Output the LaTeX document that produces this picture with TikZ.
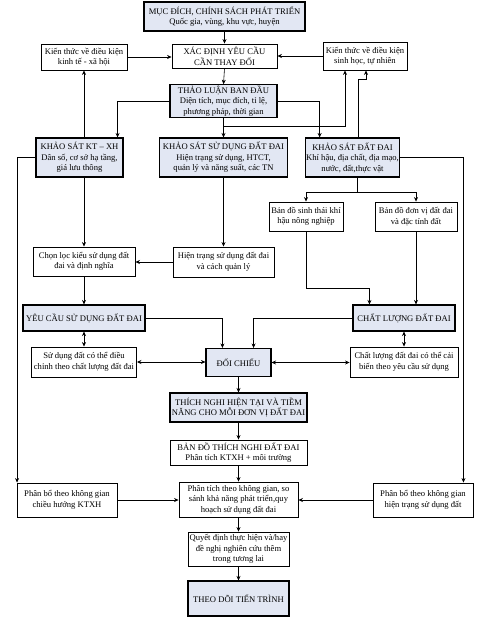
\documentclass[tikz,border=0pt]{standalone}
\usepackage{fontspec}
\setmainfont{Liberation Serif}
\usetikzlibrary{arrows.meta,positioning,calc}
\definecolor{boxblue}{RGB}{226,231,243}

\begin{document}
\begin{tikzpicture}[
   x=1pt, y=-1pt,
   >={Stealth[length=4.5pt,width=4pt]}, line width=0.6pt,
   box/.style={draw,align=center,inner sep=1pt,
               font=\fontsize{8.6}{10.5}\selectfont,line width=0.9pt},
   plain/.style={box,fill=white},
   topic/.style={box,fill=boxblue,line width=1.1pt},
   wh/.style 2 args={minimum width=#1,minimum height=#2},
   flow/.style={->},
   both/.style={<->},
   ]
\useasboundingbox (0,0) rectangle (478,618);
%% Row 1: goals
\node[topic,wh={161}{29}] (muc) at (224.5,16.5) {MỤC ĐÍCH, CHÍNH SÁCH PHÁT TRIỂN\\Quốc gia, vùng, khu vực, huyện};
\node[plain,wh={105}{24}] (xacdinh) at (224.5,56) {XÁC ĐỊNH YÊU CẦU\\CẦN THAY ĐỔI};
\node[plain,wh={86}{26}]  (ktkt) at (84,57) {Kiến thức về điều kiện\\kinh tế - xã hội};
\node[plain,wh={84}{28}]  (ktsh) at (365,56) {Kiến thức về điều kiện\\sinh học, tự nhiên};
\node[topic,wh={107}{32}] (thaoluan) at (223.5,101) {THẢO LUẬN  BAN ĐẦU\\Diện tích, mục đích,  tỉ lệ,\\phương pháp, thời gian};
%% Row 2: surveys
\node[topic,wh={87}{39}]  (ksxh) at (79.5,157.5) {KHẢO SÁT KT – XH\\Dân số, cơ sở hạ tầng,\\giá lưu thông};
\node[topic,wh={128}{39}] (kssd) at (223.5,157.5) {KHẢO SÁT SỬ DỤNG ĐẤT ĐAI\\Hiện trạng sử dụng, HTCT,\\quản lý và năng suất, các TN};
\node[topic,wh={89}{39}]  (ksdd) at (352.5,157.5) {KHẢO SÁT ĐẤT ĐAI\\Khí hậu, địa chất, địa mạo,\\nước, đất,thực vật};
\node[plain,wh={74}{29}]  (bdst) at (306,216.5) {Bản đồ sinh thái khí\\hậu nông nghiệp};
\node[plain,wh={82}{29}]  (bddv) at (416,216.5) {Bản đồ đơn vị đất đai\\và đặc tính đất};
\node[plain,wh={102}{29}] (chonloc) at (84,261.5) {Chọn lọc kiểu sử dụng đất\\đai và định nghĩa};
\node[plain,wh={101}{30}] (hientrang) at (223.5,262) {Hiện trạng sử dụng đất đai\\và cách quản lý};
%% Row 3: matching
\node[topic,wh={122}{26}] (yeucau) at (84,318) {YÊU CẦU SỬ DỤNG ĐẤT ĐAI};
\node[topic,wh={102}{26}] (chatluong) at (404,318) {CHẤT LƯỢNG ĐẤT ĐAI};
\node[plain,wh={105}{30}] (sudung) at (84,362) {Sử dụng đất có thể điều\\chỉnh theo chất lượng đất đai};
\node[topic,wh={65}{28}]  (doichieu) at (238.5,362.5) {ĐỐI CHIẾU};
\node[plain,wh={108}{30}] (clcb) at (404,362) {Chất lượng đất đai có thể cải\\biến theo yêu cầu sử dụng};
%% Row 4: suitability and planning
\node[topic,wh={137}{29}] (thichnghi) at (238.5,407.5) {THÍCH NGHI HIỆN TẠI VÀ TIỀM\\NĂNG CHO MỖI ĐƠN VỊ ĐẤT  ĐAI};
\node[plain,wh={137}{25}] (bando) at (238.5,452.5) {BẢN ĐỒ THÍCH NGHI ĐẤT ĐAI\\Phân tích KTXH + môi trường};
\node[plain,wh={100}{34}] (pbtrai) at (67,500) {Phân bổ theo không gian\\chiều hướng KTXH};
\node[plain,wh={119}{35}] (phantich) at (238.5,499.5) {Phân tích theo không gian, so\\sánh khả năng phát triển,quy\\hoạch sử dụng đất đai};
\node[plain,wh={100}{34}] (pbphai) at (423,500) {Phân bổ theo không gian\\hiện trạng sử dụng đất};
\node[plain,wh={101}{34}] (quyetdinh) at (238.5,549) {Quyết định thực hiện và/hay\\đề nghị nghiên cứu thêm\\trong tương lai};
\node[topic,wh={101}{35}] (theodoi) at (238.5,598.5) {THEO DÕI TIẾN TRÌNH};
%% top part connectors
\draw[flow] (muc.south) -- (xacdinh.north);
\draw[flow] (ktkt.east) -- (ktkt.east -| xacdinh.west);
\draw[flow] (ktsh.west) -- (ktsh.west -| xacdinh.east);
\draw[flow] (xacdinh.south) -- (thaoluan.north);
\draw[flow] (ksxh.north -| ktkt.south) -- (ktkt.south);
\draw[flow] (thaoluan.west) -| ([xshift=-6]ksxh.north east);
\draw[flow] (thaoluan.east) -| ([xshift=15]ksdd.north west);
\draw[flow] (thaoluan.south) -- (kssd.north);
\draw[flow] (kssd.north) -- ++(0,-11) -| ([xshift=-20]ktsh.south);
\draw[flow] ([xshift=5.5]ksdd.north) -- ++(0,-58) -| ([xshift=1]ktsh.south);
%% surveys down
\draw[flow] (ksxh.west) -| ([xshift=0.5]pbtrai.north west);
\draw[flow] (ksxh.south -| chonloc.north) -- (chonloc.north);
\draw[flow] (kssd.south) -- (hientrang.north);
\draw[flow] (hientrang.west) -- (hientrang.west -| chonloc.east);
\draw[flow] (chonloc.south) -- (yeucau.north);
\draw ([xshift=4.5]ksdd.south) -- ++(0,15) coordinate (tach);
\draw[flow] (tach) -| (bdst.north);
\draw[flow] (tach) -| (bddv.north);
\draw[flow] (bdst.south) -- ++(0,57) -| ([xshift=17]chatluong.north west);
\draw[flow] (bddv.south) -- (bddv.south |- chatluong.north);
\draw[flow] (ksdd.east) -| ([xshift=-10]pbphai.north east);
%% matching
\draw[flow] (yeucau.east) -| ([xshift=17]doichieu.north west);
\draw[flow] (chatluong.west) -| ([xshift=-18]doichieu.north east);
\draw[both] (yeucau.south) -- (sudung.north);
\draw[both] (sudung.east) -- (sudung.east -| doichieu.west);
\draw[both] (doichieu.east) -- (doichieu.east -| clcb.west);
\draw[both] (chatluong.south) -- (clcb.north);
%% bottom chain
\draw[flow] (doichieu.south) -- (thichnghi.north);
\draw[flow] (thichnghi.south) -- (bando.north);
\draw[flow] (bando.south) -- (phantich.north);
\draw[flow] (pbtrai.east) -- (pbtrai.east -| phantich.west);
\draw[flow] (pbphai.west) -- (pbphai.west -| phantich.east);
\draw[flow] (phantich.south) -- (quyetdinh.north);
\draw[flow] (quyetdinh.south) -- (theodoi.north);
\end{tikzpicture}
\end{document}
